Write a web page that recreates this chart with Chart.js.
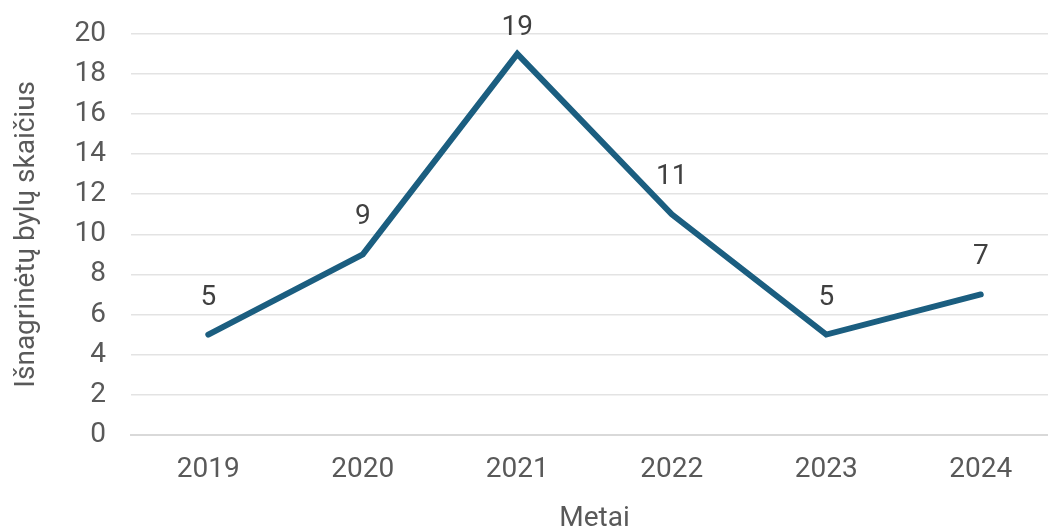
<!DOCTYPE html>
<html>
<head>
<meta charset="utf-8">
<script src="https://cdn.jsdelivr.net/npm/chart.js@4"></script>
<style>
  html, body { margin: 0; padding: 0; background: #fff; overflow: hidden; }
  #wrap { width: 1058px; height: 537px; position: relative; top: -8px; }
</style>
</head>
<body>
<div id="wrap"><canvas id="chart"></canvas></div>
<script>
// metai ir išnagrinėtų bylų skaičius
const years = ["2019", "2020", "2021", "2022", "2023", "2024"];
const cases = [5, 9, 19, 11, 5, 7];

const textColor = "#595959";
const lineColor = "#1b5e80";

// reikšmių etiketės virš taškų
const valueLabels = {
  id: "valueLabels",
  afterDatasetsDraw(chart) {
    const ctx = chart.ctx;
    const meta = chart.getDatasetMeta(0);
    const top = chart.chartArea.top;
    ctx.save();
    ctx.font = "28px Roboto";
    ctx.fillStyle = "#404040";
    ctx.textAlign = "center";
    ctx.textBaseline = "middle";
    meta.data.forEach((pt, i) => {
      const y = Math.max(pt.y - 37, top - 6);
      ctx.fillText(String(cases[i]), pt.x, y);
    });
    ctx.restore();
  }
};

new Chart(document.getElementById("chart"), {
  type: "line",
  data: {
    labels: years,
    datasets: [{
      data: cases,
      borderColor: lineColor,
      borderWidth: 6,
      pointRadius: 0,
      tension: 0,
      borderCapStyle: "round"
    }]
  },
  options: {
    responsive: true,
    maintainAspectRatio: false,
    animation: false,
    layout: { padding: { top: 10, right: 0, left: 6, bottom: -7 } },
    plugins: {
      legend: { display: false },
      tooltip: { enabled: false }
    },
    scales: {
      x: {
        offset: true,
        grid: { display: false, drawTicks: false },
        border: { color: "#d9d9d9", width: 2 },
        ticks: { color: textColor, font: { family: "Roboto", size: 28 }, padding: 18 },
        title: { display: true, text: "Metai", color: textColor, font: { family: "Roboto", size: 28 }, padding: { top: -2, bottom: 0 } }
      },
      y: {
        min: 0,
        max: 20,
        ticks: { stepSize: 2, color: textColor, font: { family: "Roboto", size: 28 }, padding: 25 },
        grid: { color: "#e3e3e3", lineWidth: 1.5, drawTicks: false },
        border: { display: false },
        title: { display: true, text: "Išnagrinėtų bylų skaičius", color: textColor, font: { family: "Roboto", size: 28 }, padding: { bottom: 6 } }
      }
    }
  },
  plugins: [valueLabels]
});
</script>
</body>
</html>
